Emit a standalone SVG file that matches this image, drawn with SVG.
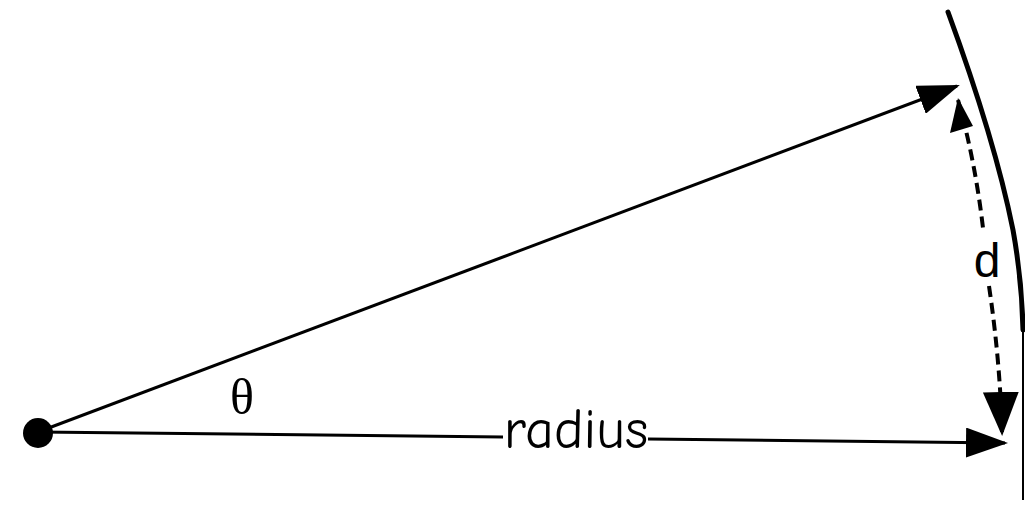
<svg xmlns="http://www.w3.org/2000/svg" width="1025" height="511" viewBox="0 0 1025 511">
<style>
.ln{fill:none;stroke:#000;stroke-width:3}
.dash{fill:none;stroke:#000;stroke-width:4;stroke-dasharray:11 6}
.lbl{font-family:"Comic Neue","Liberation Sans",sans-serif;fill:#000}
</style>
<defs>
<marker id="ah" markerWidth="14" markerHeight="10" refX="13" refY="5" orient="auto" markerUnits="strokeWidth">
<path d="M0,0 L14,5 L0,10 Z" fill="#000"/>
</marker>
<marker id="ahd" markerWidth="11" markerHeight="9" refX="10" refY="4.5" orient="auto-start-reverse" markerUnits="strokeWidth">
<path d="M0,0 L11,4.5 L0,9 Z" fill="#000"/>
</marker>
</defs>
<g id="arc">
<path d="M948,12 Q995,140 1013,230 Q1022,280 1023,330" fill="none" stroke="#000" stroke-width="5" stroke-linecap="round"/>
<path d="M1023,320 L1023,500" fill="none" stroke="#000" stroke-width="2"/>
</g>
<g id="center">
<circle cx="38" cy="433" r="15" fill="#000"/>
</g>
<g id="connectors">
<path class="ln" d="M38,432 L957,86" marker-end="url(#ah)"/>
<path class="ln" d="M38,432 L503,437"/>
<path class="ln" d="M648,439 L1005,443" marker-end="url(#ah)"/>
<path class="dash" d="M958,100 Q975,160 983,228"/>
<path class="dash" d="M989,286 Q1000,360 1002,432" marker-end="url(#ahd)"/>
<path d="M958,98 L950,133 L973,126 Z" fill="#000"/>
</g>
<g id="labels">
<text class="lbl" x="576" y="448" font-size="56" text-anchor="middle">radius</text>
<text x="987" y="277" font-size="48" text-anchor="middle" font-family="Liberation Sans,sans-serif" font-weight="300">d</text>
<text x="242" y="414" font-size="50" text-anchor="middle" font-family="Liberation Serif,serif">θ</text>
</g>
</svg>
